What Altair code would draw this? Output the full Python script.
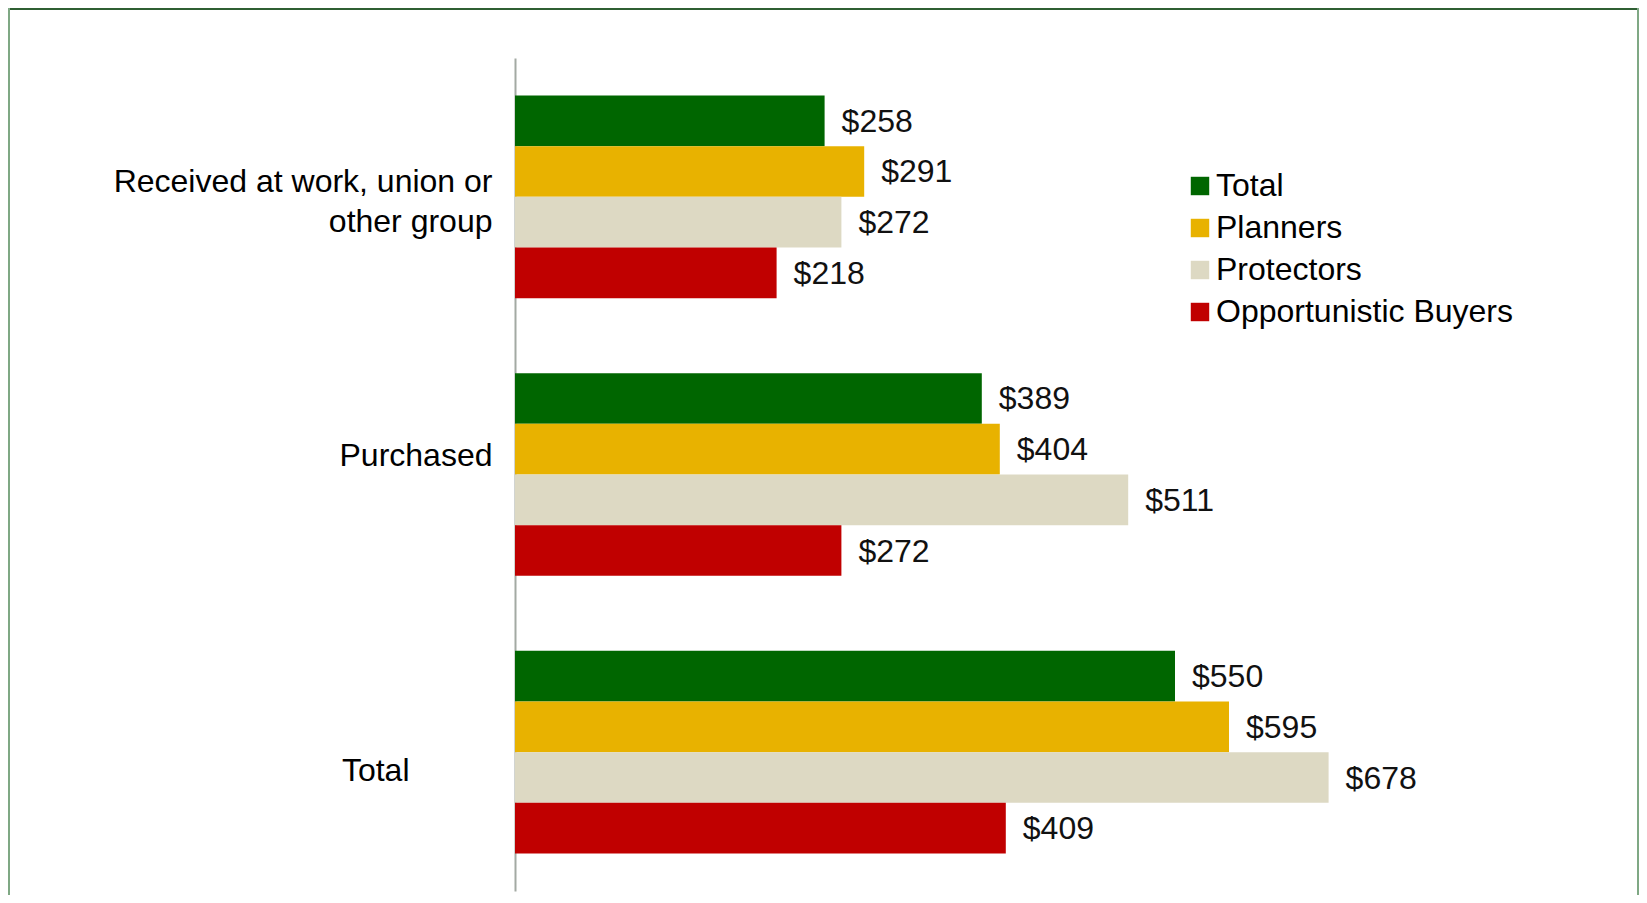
import altair as alt
import pandas as pd

categories = ["Received at work, union or|other group", "Purchased", "Total"]
series = ["Total", "Planners", "Protectors", "Opportunistic Buyers"]
colors = ["#006600", "#E8B200", "#DDD9C3", "#C00000"]
values_total = [258, 389, 550]
values_planners = [291, 404, 595]
values_protectors = [272, 511, 678]
values_opportunistic = [218, 272, 409]

rows = []
for s, vals in zip(series, [values_total, values_planners, values_protectors, values_opportunistic]):
    for c, v in zip(categories, vals):
        rows.append({"category": c, "series": s, "value": v})
df = pd.DataFrame(rows)

W, H = 1080, 833
FONT = "Liberation Sans"
FS = 32

y_enc = alt.Y(
    "category:N",
    sort=categories,
    scale=alt.Scale(paddingInner=0.27, paddingOuter=0.135),
    axis=alt.Axis(
        title=None,
        ticks=False,
        tickSize=0,
        domain=True,
        domainColor="#a3aaa3",
        domainWidth=2,
        labelFont=FONT,
        labelFontSize=FS,
        labelColor="#000000",
        labelAlign="right",
        labelBaseline="middle",
        labelLimit=0,
        labelLineHeight=40,
        labelExpr="split(datum.label, '|')",
        labelPadding={"condition": {"test": "datum.value == 'Total'", "value": 106}, "value": 23},
        labelOffset={
            "condition": [
                {"test": "datum.value == 'Total'", "value": 19},
                {"test": "datum.value == 'Purchased'", "value": -19},
            ],
            "value": -15,
        },
    ),
)
yoff = alt.YOffset("series:N", sort=series, scale=alt.Scale(paddingInner=0, paddingOuter=0))
x_enc = alt.X("value:Q", scale=alt.Scale(domain=[0, 900], nice=False, zero=True), axis=None)

base = alt.Chart(df)

bars = base.mark_bar().encode(
    y=y_enc,
    yOffset=yoff,
    x=x_enc,
    color=alt.Color(
        "series:N",
        sort=series,
        scale=alt.Scale(domain=series, range=colors),
        legend=alt.Legend(
            title=None,
            orient="none",
            legendX=669,
            legendY=112,
            labelFont=FONT,
            labelFontSize=FS,
            labelColor="#000000",
            symbolType="square",
            symbolSize=340,
            symbolStrokeWidth=0,
            labelOffset=0,
            rowPadding=10,
            padding=0,
            labelLimit=0,
        ),
    ),
)

labels = base.mark_text(
    align="left", baseline="middle", dx=17, dy=1, font=FONT, fontSize=FS, color="#111111"
).encode(
    y=alt.Y("category:N", sort=categories),
    yOffset=yoff,
    x=x_enc,
    text=alt.Text("value:Q", format="$.0f"),
)

border_top = alt.Chart(pd.DataFrame({"a": [0]})).mark_rule(color="#2f5f33", strokeWidth=2).encode(
    x=alt.value(-507), x2=alt.value(W + 44), y=alt.value(-49)
)
border_left = alt.Chart(pd.DataFrame({"a": [0]})).mark_rule(color="#7fa884", strokeWidth=2).encode(
    x=alt.value(-506), y=alt.value(-50), y2=alt.value(H + 10)
)
border_right = alt.Chart(pd.DataFrame({"a": [0]})).mark_rule(color="#7fa884", strokeWidth=2).encode(
    x=alt.value(W + 43), y=alt.value(-50), y2=alt.value(H + 10)
)

chart = (
    alt.layer(bars, labels, border_top, border_left, border_right)
    .properties(
        width=W,
        height=H,
        autosize=alt.AutoSizeParams(type="none"),
        padding={"left": 507, "top": 50, "right": 44, "bottom": 4},
        background="#ffffff",
    )
    .configure_view(stroke=None)
)

chart.save("out.html", embed_options={"renderer": "svg", "actions": False})
